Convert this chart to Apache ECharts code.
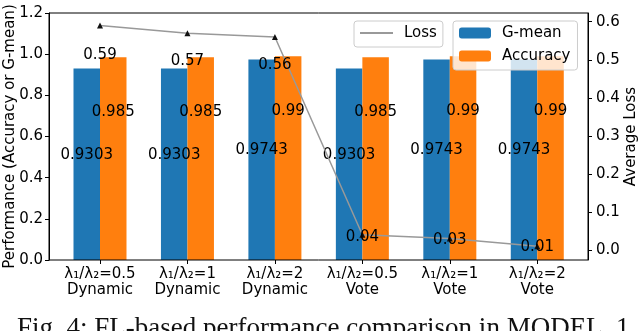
<!DOCTYPE html>
<html>
<head>
<meta charset="utf-8">
<script src="https://cdn.jsdelivr.net/npm/echarts@6/dist/echarts.min.js"></script>
<style>
  html, body { margin: 0; padding: 0; background: #fff; }
  #chart { width: 640px; height: 331px; }
</style>
</head>
<body>
<div id="chart"></div>
<script>
// 数据
const categories = ['λ₁/λ₂=0.5\nDynamic', 'λ₁/λ₂=1\nDynamic', 'λ₁/λ₂=2\nDynamic', 'λ₁/λ₂=0.5\nVote', 'λ₁/λ₂=1\nVote', 'λ₁/λ₂=2\nVote']
const gmean = [0.9303, 0.9303, 0.9743, 0.9303, 0.9743, 0.9743]
const accuracy = [0.985, 0.985, 0.99, 0.985, 0.99, 0.99]
const loss = [0.59, 0.57, 0.56, 0.04, 0.03, 0.01]
const lossTicks = [0, 0.1, 0.2, 0.3, 0.4, 0.5, 0.6]

const font = 'DejaVu Sans'
const chart = echarts.init(document.getElementById('chart'))

const option = {
  animation: false,
  title: {
    text: 'Fig. 4: FL-based performance comparison in MODEL_1',
    left: 17,
    top: 315,
    padding: 0,
    textStyle: { fontFamily: 'Liberation Serif', fontSize: 27, fontWeight: 'normal', color: '#111' },
  },
  legend: [
    {
      data: [{ name: 'Loss', icon: 'rect' }],
      left: 354,
      top: 21,
      padding: [4, 6, 6, 6],
      itemWidth: 33,
      itemHeight: 2,
      itemStyle: { color: '#999' },
      backgroundColor: 'rgba(255,255,255,0.8)',
      borderColor: '#ccc',
      borderWidth: 1,
      borderRadius: 3,
      textStyle: { fontFamily: font, fontSize: 15, color: '#000', lineHeight: 16, padding: [0, 0, 0, 6] },
    },
    {
      data: ['G-mean', 'Accuracy'],
      orient: 'vertical',
      left: 453,
      top: 21,
      padding: [4, 7, 6, 6],
      itemWidth: 32,
      itemHeight: 11,
      itemGap: 7,
      backgroundColor: 'rgba(255,255,255,0.8)',
      borderColor: '#ccc',
      borderWidth: 1,
      borderRadius: 3,
      textStyle: { fontFamily: font, fontSize: 15, color: '#000', lineHeight: 16, padding: [0, 0, 0, 6] },
    },
  ],
  grid: [
    { left: 56.27, right: 59, top: 13, bottom: 71, containLabel: false, outerBoundsMode: 'none' },
    // 外框
    { left: 49, right: 52, top: 13, bottom: 71, containLabel: false, outerBoundsMode: 'none', show: true, borderColor: '#000', borderWidth: 1, z: 10 },
  ],
  xAxis: [
    {
      type: 'category',
      gridIndex: 0,
      data: categories,
      axisLine: { show: false },
      axisTick: { show: true, alignWithLabel: true, length: 4, lineStyle: { color: '#000' } },
      axisLabel: { fontFamily: font, fontSize: 15, color: '#000', lineHeight: 16, margin: 6, interval: 0 },
    },
    { type: 'value', gridIndex: 1, show: false },
  ],
  yAxis: [
    {
      type: 'value',
      gridIndex: 0,
      min: 0,
      max: 1.2,
      interval: 0.2,
      offset: 7.27,
      name: 'Performance (Accuracy or G-mean)',
      nameLocation: 'middle',
      nameRotate: 90,
      nameGap: 31,
      nameMoveOverlap: false,
      nameTextStyle: { fontFamily: font, fontSize: 15, color: '#000' },
      axisLine: { show: true, lineStyle: { color: '#000' } },
      axisTick: { show: true, length: 4, lineStyle: { color: '#000' } },
      axisLabel: { fontFamily: font, fontSize: 15, color: '#000', margin: 6, formatter: (v) => v.toFixed(1) },
      splitLine: { show: false },
    },
    {
      type: 'value',
      gridIndex: 0,
      position: 'right',
      min: -0.0263,
      max: 0.623,
      offset: 7,
      name: 'Average Loss',
      nameLocation: 'middle',
      nameRotate: 90,
      nameGap: 36,
      nameMoveOverlap: false,
      nameTextStyle: { fontFamily: font, fontSize: 15, color: '#000' },
      axisLine: { show: true, lineStyle: { color: '#000' } },
      axisTick: { show: true, length: 4, lineStyle: { color: '#000' }, customValues: lossTicks },
      axisLabel: { fontFamily: font, fontSize: 15, color: '#000', margin: 8, customValues: lossTicks, formatter: (v) => v.toFixed(1) },
      splitLine: { show: false },
    },
    { type: 'value', gridIndex: 1, show: false },
  ],
  series: [
    {
      name: 'G-mean',
      type: 'bar',
      data: gmean,
      barWidth: 26.5,
      barGap: '0%',
      itemStyle: { color: '#1f77b4' },
      label: {
        show: true,
        position: ['50%', '45%'],
        align: 'center',
        verticalAlign: 'middle',
        fontFamily: font,
        fontSize: 15,
        color: '#000',
        formatter: (p) => String(p.value),
      },
    },
    {
      name: 'Accuracy',
      type: 'bar',
      data: accuracy,
      barWidth: 26.5,
      barGap: '0%',
      itemStyle: { color: '#ff7f0e' },
      label: {
        show: true,
        position: ['50%', '27%'],
        align: 'center',
        verticalAlign: 'middle',
        fontFamily: font,
        fontSize: 15,
        color: '#000',
        formatter: (p) => String(p.value),
      },
    },
    {
      name: 'Loss',
      type: 'line',
      yAxisIndex: 1,
      data: loss,
      symbol: 'triangle',
      symbolSize: 6,
      itemStyle: { color: '#111' },
      lineStyle: { color: '#999', width: 1.5 },
      z: 5,
      label: {
        show: true,
        fontFamily: font,
        fontSize: 15,
        color: '#000',
        formatter: (p) => String(p.value),
      },
      // 标签放在 0.87 倍损失值处（与原图一致）
      labelLayout: (params) => {
        const y = chart.convertToPixel({ yAxisIndex: 1 }, loss[params.dataIndex] * 0.87)
        return {
          x: params.rect.x + params.rect.width / 2,
          y: y,
          align: 'center',
          verticalAlign: 'middle',
        }
      },
    },
  ],
}

chart.setOption(option)
</script>
</body>
</html>
